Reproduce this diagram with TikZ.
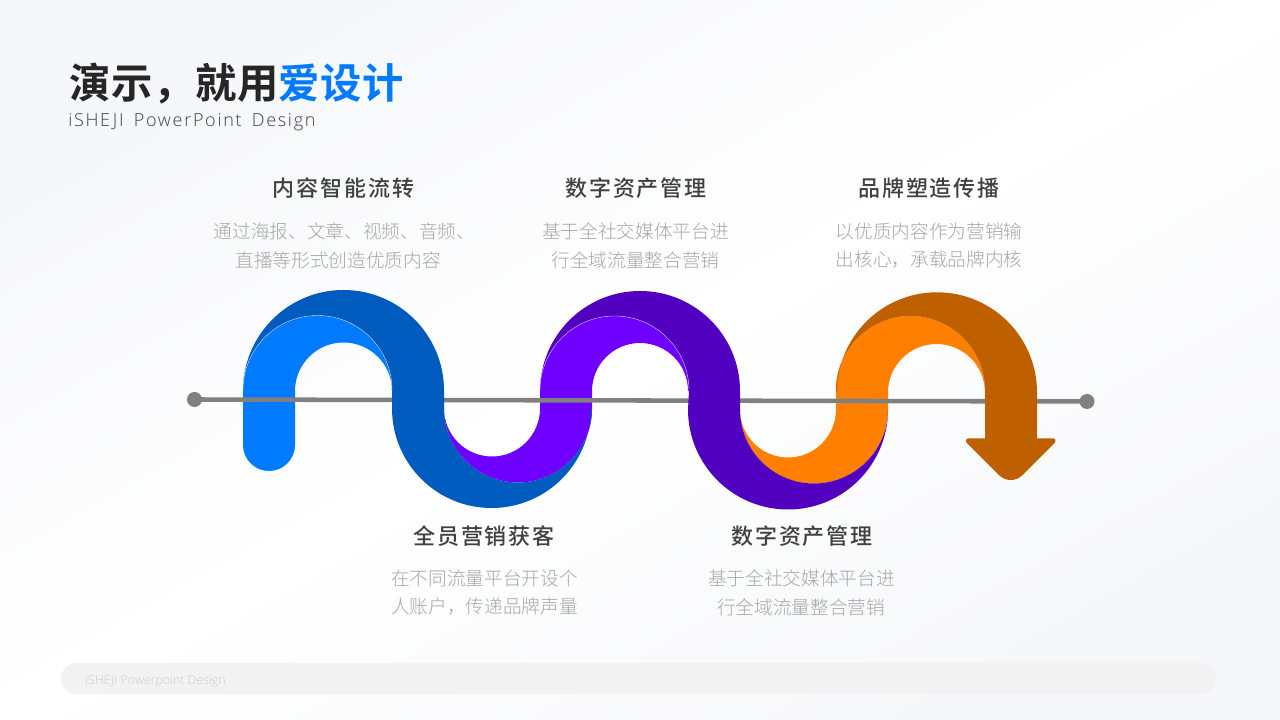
\documentclass[tikz,border=0pt]{standalone}
\usepackage{fontspec}
\setmainfont{Noto Sans CJK SC}
\newfontfamily\titlefont[LetterSpace=1.5]{Noto Sans CJK SC Bold}
\newfontfamily\headfont[LetterSpace=8.5]{Noto Sans CJK SC Medium}
\newfontfamily\bodyfont{Noto Sans CJK SC Light}
\newfontfamily\latinlight[LetterSpace=9.5,WordSpace=1.6]{Open Sans Light}
\newfontfamily\footlight{Open Sans Light}
\definecolor{cBlue}{HTML}{007AFF}
\definecolor{cBlueD}{HTML}{005BBF}
\definecolor{cPur}{HTML}{6F00FF}
\definecolor{cPurD}{HTML}{5100BF}
\definecolor{cOra}{HTML}{FF8000}
\definecolor{cOraD}{HTML}{BF6000}
\definecolor{cLine}{HTML}{808080}
\definecolor{cHead}{HTML}{404040}
\definecolor{cBody}{HTML}{A6A6A6}
\definecolor{cTitle}{HTML}{262626}
\definecolor{cBgA}{HTML}{F6F7FA}
\tikzset{
  headtext/.style={inner sep=0pt,text=cHead,font=\fontsize{16.5}{20}\selectfont\headfont},
  bodytext/.style={inner sep=0pt,text=cBody,font=\fontsize{14}{17}\selectfont\bodyfont},
  dotnode/.style={circle,fill=cLine,inner sep=0pt,minimum size=11.25pt},
  hair/.style={white,opacity=0.7,line width=0.3pt}
}
\begin{document}
\begin{tikzpicture}
\useasboundingbox (0,0) rectangle (960pt,540pt);
\shade[shading=axis,top color=cBgA,bottom color=cBgA,middle color=white,shading angle=29.4] (0,0) rectangle (960pt,540pt);
\begin{scope}[shift={(0,540pt)},yscale=-1,x=0.75pt,y=0.75pt]
% light bands
\fill[cBlue] (243,445) -- (243,390) arc[start angle=180,end angle=360,radius=74.5]
  -- (392,391) arc[start angle=360,end angle=180,radius=48.5]
  -- (295,445) arc[start angle=0,end angle=180,radius=26] -- cycle;
\fill[cPur] (444,408.5) arc[start angle=180,end angle=0,radius=48]
  -- (540,390.5) arc[start angle=180,end angle=360,radius=74.5]
  -- (688,391) arc[start angle=360,end angle=180,radius=48]
  -- (592,408.5) arc[start angle=0,end angle=180,radius=74] -- cycle;
\fill[cOra] (740,409.5) arc[start angle=180,end angle=0,radius=48]
  -- (836,390.5) arc[start angle=180,end angle=360,radius=74.5]
  -- (985,392.5) arc[start angle=360,end angle=180,radius=48.5]
  -- (888,409.5) arc[start angle=0,end angle=180,radius=74] -- cycle;
% axis
\node[dotnode] (dotL) at (194.5,399.5) {};
\node[dotnode] (dotR) at (1087,401.5) {};
\draw[cLine,line width=3.4pt] (dotL.center) -- (dotR.center);
% dark bands
\fill[cBlueD] (243,390.5) arc[start angle=180,end angle=360,radius=100.5]
  -- (444,408.5) arc[start angle=180,end angle=0,radius=74]
  -- (591,408.5) arc[start angle=0,end angle=180,radius=99.5]
  -- (392,390) arc[start angle=360,end angle=180,radius=74.5] -- cycle;
\fill[cPurD] (540,391) arc[start angle=180,end angle=360,radius=100]
  -- (740,409.5) arc[start angle=180,end angle=0,radius=74]
  -- (888,409.5) arc[start angle=0,end angle=180,radius=100]
  -- (689,390.5) arc[start angle=360,end angle=180,radius=74.5] -- cycle;
\fill[cOraD] (837,392.3) arc[start angle=180,end angle=360,radius=100]
  -- (1037,438.3) -- (1052.5,438.3) .. controls (1055.5,438.3) and (1056.5,441) .. (1054.5,443)
  -- (1022.3,475.2) .. controls (1015.9,481.6) and (1005.5,481.6) .. (999.1,475.2)
  -- (966.9,443) .. controls (965,441) and (966,438.3) .. (969,438.3)
  -- (985,438.3) -- (985,390.5) arc[start angle=360,end angle=180,radius=74.5] -- cycle;
% seams
\draw[hair] (243,390) arc[start angle=180,end angle=360,radius=74.5];
\draw[hair] (540,390.5) arc[start angle=180,end angle=360,radius=74.5];
% title
\node[anchor=west,inner sep=0pt,text=cTitle,font=\fontsize{31}{36}\selectfont\titlefont] (title) at (69,84) {演示，就用\textcolor{cBlue}{爱设计}};
\node[anchor=west,inner sep=0pt,text=cHead,font=\fontsize{13.5}{16}\selectfont\latinlight] (subtitle) at (68,122.5) {iSHEJI PowerPoint Design};
% headings
\node[headtext] (h1) at (343.5,188) {内容智能流转};
\node[headtext] (h2) at (636,188) {数字资产管理};
\node[headtext] (h3) at (929,188) {品牌塑造传播};
\node[headtext] (h4) at (484,536) {全员营销获客};
\node[headtext] (h5) at (802,536) {数字资产管理};
% bodies
\node[bodytext] (b1a) at (344.5,231) {通过海报、文章、视频、音频、};
\node[bodytext] (b1b) at (338,260) {直播等形式创造优质内容};
\node[bodytext] (b2a) at (635.5,231) {基于全社交媒体平台进};
\node[bodytext] (b2b) at (635.5,260) {行全域流量整合营销};
\node[bodytext] (b3a) at (929,231) {以优质内容作为营销输};
\node[bodytext] (b3b) at (929,260) {出核心，承载品牌内核};
\node[bodytext] (b4a) at (484.5,578) {在不同流量平台开设个};
\node[bodytext] (b4b) at (484.5,607) {人账户，传递品牌声量};
\node[bodytext] (b5a) at (801.5,578) {基于全社交媒体平台进};
\node[bodytext] (b5b) at (801,607) {行全域流量整合营销};
% footer
\fill[fill=black!5,rounded corners=11.6pt] (61,663) rectangle (1216,694);
\node[anchor=west,inner sep=0pt,text=black!20,font=\fontsize{9.3}{11}\selectfont\footlight] (foot) at (85,681) {iSHEJI Powerpoint Design};
\end{scope}
\end{tikzpicture}
\end{document}
